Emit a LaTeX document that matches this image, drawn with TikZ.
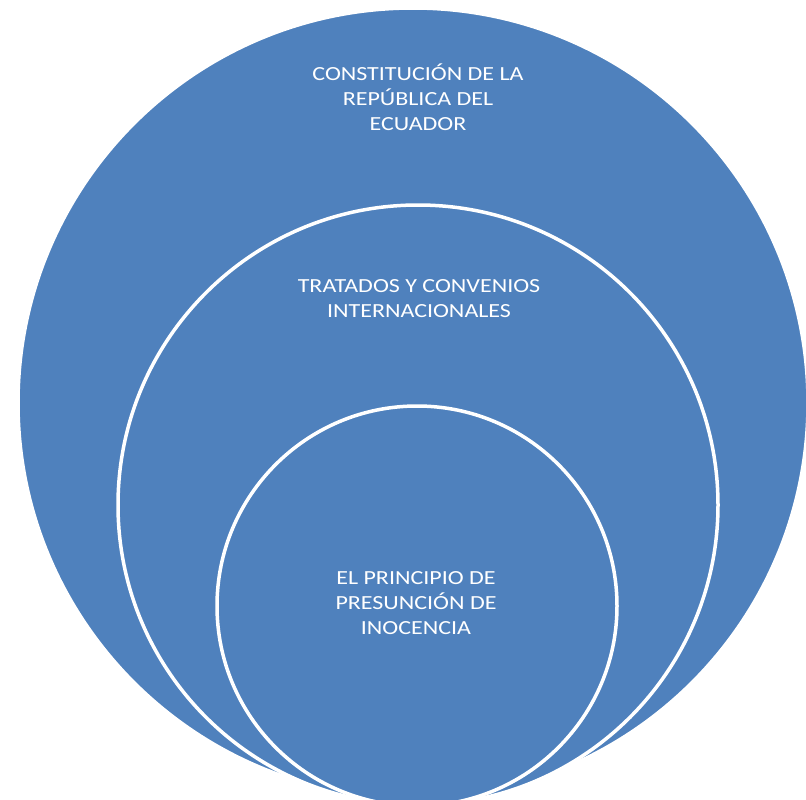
\documentclass[tikz,border=0pt]{standalone}
\usepackage{fontspec}
\setmainfont{Carlito}
\definecolor{ringblue}{HTML}{4F81BD}
\tikzset{
  ring/.style={circle, fill=ringblue, draw=white, line width=3.5pt, inner sep=0pt},
  ringtext/.style={text=white, align=center, font=\fontsize{20}{25}\selectfont, inner sep=0pt, xscale=1.2}
}
\begin{document}
\begin{tikzpicture}[x=1pt,y=-1pt]
\useasboundingbox (0,0) rectangle (806,800);
\clip (0,0) rectangle (806,800);
\node[ring, minimum size=790pt] (outer) at (413,403) {};
\node[ring, minimum size=600pt] (middle) at (418,505) {};
\node[ring, minimum size=400pt] (inner) at (417,606) {};
\node[ringtext] (t1) at (418,97) {CONSTITUCIÓN DE LA\\REPÚBLICA DEL\\ECUADOR};
\node[ringtext] (t2) at (419,299) {TRATADOS Y CONVENIOS\\INTERNACIONALES};
\node[ringtext] (t3) at (416,603) {EL PRINCIPIO DE\\PRESUNCIÓN DE\\INOCENCIA};
\end{tikzpicture}
\end{document}
